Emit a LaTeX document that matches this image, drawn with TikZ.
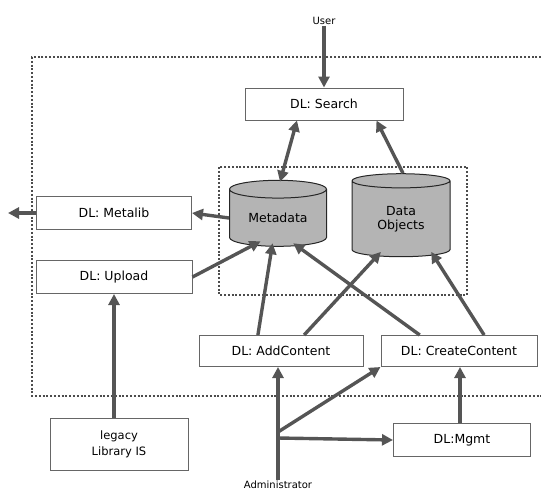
\documentclass[tikz,border=0pt]{standalone}
\usepackage{fontspec}
\setmainfont{DejaVu Sans}
\usetikzlibrary{shapes.geometric,arrows.meta,calc}
\definecolor{arr}{HTML}{555555}
\definecolor{cyl}{HTML}{B4B4B4}
\begin{document}
\begin{tikzpicture}[x=1pt,y=-1pt,
  font=\fontsize{12.5}{14}\selectfont,
  box/.style={draw=gray!80!black,line width=1pt,rectangle,inner sep=0pt},
  db/.style={cylinder,shape border rotate=90,draw=gray!30!black,line width=1pt,fill=cyl,aspect=0.3,inner sep=0pt,align=center},
  conn/.style={draw=arr,line width=3.4pt,-{Triangle[length=11pt,width=11pt]}},
  bconn/.style={draw=arr,line width=3.4pt,{Triangle[length=11pt,width=11pt]}-{Triangle[length=11pt,width=11pt]}},
  dots/.style={draw=gray!60!black,line width=2.3pt,dash pattern=on 2pt off 1.8pt},
  lbl/.style={inner sep=1pt}]
\useasboundingbox (0,0) rectangle (541,491);
% outer dotted region
\draw[dots] (545,57) -- (32,57) -- (32,396) -- (545,396);
% inner dotted region
\draw[dots] (219,167) rectangle (467,295);
% nodes
\node[lbl] (user) at (324,21) {\fontsize{10}{11}\selectfont User};
\node[box,minimum width=158,minimum height=32] (search) at (324,104) {DL: Search};
\node[box,minimum width=155,minimum height=33] (metalib) at (114,213) {DL: Metalib};
\node[box,minimum width=156,minimum height=33] (upload) at (114,277) {DL: Upload};
\node[box,minimum width=164,minimum height=31] (add) at (281,351) {DL: AddContent};
\node[box,minimum width=156,minimum height=31] (create) at (459,351) {DL: CreateContent};
\node[box,minimum width=138,minimum height=52,align=center,font=\fontsize{11.5}{16}\selectfont] (legacy) at (119,444) {legacy\\Library IS};
\node[box,minimum width=137,minimum height=33] (mgmt) at (462,440) {DL:Mgmt};
\node[lbl] (admin) at (278,485) {\fontsize{10}{11}\selectfont Administrator};
\node[db,minimum width=97,minimum height=66] (meta) at (278,218) {Metadata};
\node[db,minimum width=98,minimum height=83] (data) at (401,219) {Data\\Objects};
\coordinate (out) at (8,213);
\coordinate (adminjoin) at (278,438);
% connectors
\draw[conn] (user.south) -- (search.north);
\draw[bconn] ($(search.south west)!0.33!(search.south east)$) -- ($(meta.north)+(2,2)$);
\draw[conn] ($(data.north)+(2,0)$) -- ($(search.south west)!0.83!(search.south east)$);
\draw[conn] (meta.west) -- (metalib.east);
\draw[conn] (metalib.west) -- (out);
\draw[conn] ($(upload.north east)!0.5!(upload.south east)$) -- ($(meta.south west)!0.18!(meta.south east)+(0,-4)$);
\draw[conn] ($(add.north west)!0.36!(add.north east)$) -- ($(meta.south west)!0.4!(meta.south east)+(0,-2)$);
\draw[conn] ($(create.north west)!0.25!(create.north east)$) -- ($(meta.south west)!0.78!(meta.south east)+(0,-2)$);
\draw[conn] ($(add.north west)!0.64!(add.north east)$) -- ($(data.south west)!0.22!(data.south east)+(0,-3)$);
\draw[conn] ($(create.north west)!0.66!(create.north east)$) -- ($(data.south west)!0.92!(data.south east)+(0,-3)$);
\draw[conn] (legacy.north -| upload.south) -- (upload.south);
\draw[draw=arr,line width=3.4pt] (admin.north) -- (adminjoin);
\draw[conn] (adminjoin) -- (add.south -| adminjoin);
\draw[conn] (adminjoin) -- (mgmt.west);
\draw[conn] ($(adminjoin)+(0,-6)$) -- (create.south west);
\draw[conn] (mgmt.north -| 460,0) -- (create.south -| 460,0);
\end{tikzpicture}
\end{document}
